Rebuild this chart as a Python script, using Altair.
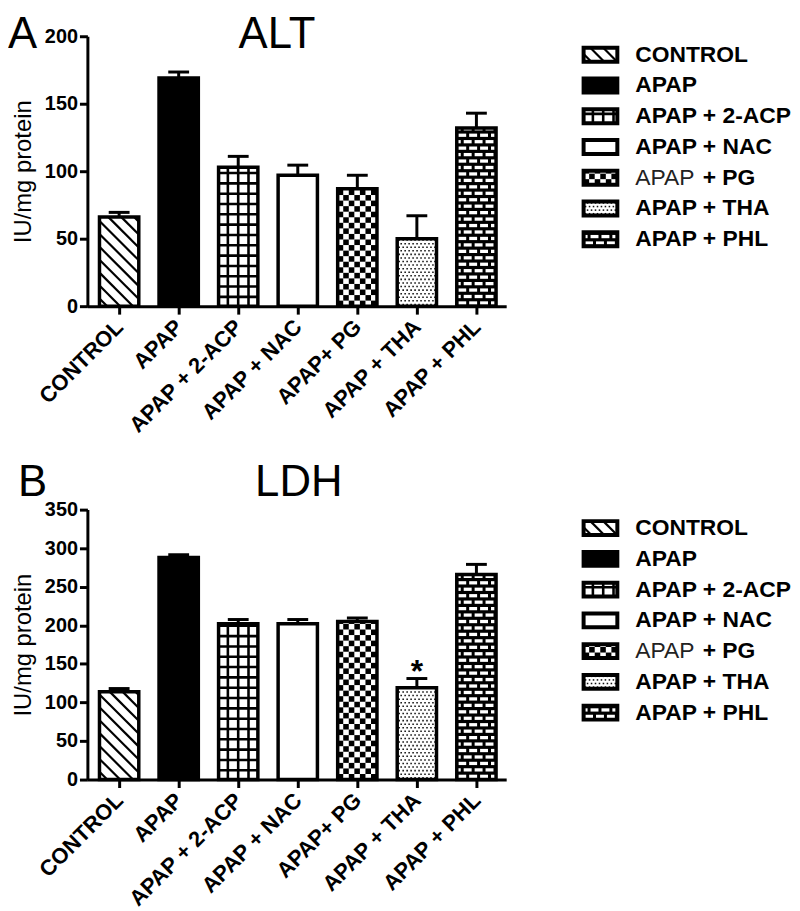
import json
import math
import altair as alt
import pandas as pd

# ---------------- data ----------------
groups = ["CONTROL", "APAP", "APAP + 2-ACP", "APAP + NAC", "APAP + PG", "APAP + THA", "APAP + PHL"]
axis_labels = ["CONTROL", "APAP", "APAP + 2-ACP", "APAP + NAC", "APAP+ PG", "APAP + THA", "APAP + PHL"]
legend_regular_prefix = ["", "", "", "", "APAP", "", ""]
patterns = ["hatch", "solid", "grid", "empty", "checker", "dots", "brick"]

alt_mean = [66, 169, 103, 97, 87, 50, 132]
alt_sem = [3.5, 4.5, 8, 7.5, 10, 17, 11]
alt_marks = ["", "", "", "", "", "", ""]

ldh_mean = [114, 288, 202, 202, 205, 119, 266]
ldh_sem = [4, 3.5, 5.5, 5.5, 4.5, 12, 13]
ldh_marks = ["", "", "", "", "", "*", ""]

# ---------------- layout / style ----------------
FONT = "Liberation Sans"
W, H = 422, 272
XMIN, XMAX = -0.533, 6.5
KX = W / (XMAX - XMIN)
HW = 0.33
CAP = 0.175
BASE_FILL = {"hatch": "white", "solid": "black", "grid": "white", "empty": "white",
             "checker": "white", "dots": "white", "brick": "black"}

LEGW, LEGH = 200, 217
KYL = LEGH / 7.0
SW_W, SW_H = 34, 14
LABEL_X = 52
LEG_FONT = 23
PREFIX_W = 68


def prims(kind, Wb, Hb):
    lines, rects, dots = [], [], []
    if kind == "hatch":
        s = 13.0
        c = s * 0.6
        while c < Wb + Hb:
            u1, u2 = max(0.0, c - Hb), min(Wb, c)
            if u2 - u1 > 0.5:
                lines.append((u1, c - u1, u2, c - u2, 2.2))
            c += s
    elif kind == "grid":
        p = 10.4
        u = p * 0.9
        while u < Wb - 1:
            lines.append((u, 0, u, Hb, 2.6))
            u += p
        w = p * 0.9
        while w < Hb - 1:
            lines.append((0, w, Wb, w, 2.6))
            w += p
    elif kind == "checker":
        c = 5.6
        for a in range(int(math.ceil(Wb / c))):
            for b in range(int(math.ceil(Hb / c))):
                if (a + b) % 2 == 0:
                    rects.append((a * c, b * c, min(Wb, (a + 1) * c), min(Hb, (b + 1) * c), "black"))
    elif kind == "dots":
        ph, pv = 4.0, 3.6
        r = 0
        w = pv / 2
        while w < Hb - 1:
            u = 2.0 + (ph / 2 if r % 2 else 0)
            while u < Wb - 1:
                dots.append((u, w))
                u += ph
            w += pv
            r += 1
    elif kind == "brick":
        ph, pv, bw, bh = 11.0, 6.5, 8.0, 3.3
        r = 0
        w = 1.6
        while w < Hb:
            u = 1.5 if r % 2 == 0 else 1.5 - ph / 2
            while u < Wb:
                u1, u2 = max(0.0, u), min(Wb, u + bw)
                w2 = min(Hb, w + bh)
                if u2 - u1 > 0.5 and w2 - w > 0.5:
                    rects.append((u1, w, u2, w2, "white"))
                u += ph
            w += pv
            r += 1
    return lines, rects, dots


def pattern_frames(regions):
    L, R, D = [], [], []
    for kind, Wb, Hb, fx, fy in regions:
        lines, rects, dots = prims(kind, Wb, Hb)
        for u1, w1, u2, w2, sw in lines:
            L.append({"x": fx(u1), "y": fy(w1), "x2": fx(u2), "y2": fy(w2), "sw": sw})
        for u1, w1, u2, w2, col in rects:
            R.append({"x": fx(u1), "y": fy(w1), "x2": fx(u2), "y2": fy(w2), "c": col})
        for u, w in dots:
            D.append({"x": fx(u), "y": fy(w)})
    return pd.DataFrame(L), pd.DataFrame(R), pd.DataFrame(D)


def pattern_layers(L, R, D, xs, ys, xa, ya):
    out = []
    if len(L):
        out.append(alt.Chart(L).mark_rule(color="black").encode(
            x=alt.X("x:Q", scale=xs, axis=xa), y=alt.Y("y:Q", scale=ys, axis=ya),
            x2="x2:Q", y2="y2:Q", strokeWidth=alt.StrokeWidth("sw:Q", scale=None)))
    if len(R):
        out.append(alt.Chart(R).mark_rect(strokeWidth=0).encode(
            x=alt.X("x:Q", scale=xs, axis=xa), y=alt.Y("y:Q", scale=ys, axis=ya),
            x2="x2:Q", y2="y2:Q", fill=alt.Fill("c:N", scale=None)))
    if len(D):
        out.append(alt.Chart(D).mark_square(size=2.4, color="#111", opacity=1).encode(
            x=alt.X("x:Q", scale=xs, axis=xa), y=alt.Y("y:Q", scale=ys, axis=ya)))
    return out


def panel(means, sems, marks, ymax, letter, title, letter_x, title_x, title_y):
    KY = H / ymax
    xs = alt.Scale(domain=[XMIN, XMAX], nice=False, zero=False)
    ys = alt.Scale(domain=[0, ymax], nice=False, zero=True)
    df = pd.DataFrame({"idx": list(range(7)), "mean": means, "sem": sems, "mark": marks,
                       "fill": [BASE_FILL[p] for p in patterns]})
    base = alt.Chart(df).transform_calculate(
        x1=f"datum.idx - {HW}", x2=f"datum.idx + {HW}", zero="0",
        top="datum.mean + datum.sem", cl=f"datum.idx - {CAP}", cr=f"datum.idx + {CAP}")
    label_expr = json.dumps(axis_labels) + "[round(datum.value)]"
    xa = alt.Axis(values=list(range(7)), labelExpr=label_expr, labelAngle=-45,
                  labelAlign="right", labelBaseline="middle", labelFontSize=22,
                  labelPadding=9, title=None, tickSize=8, labelOverlap=False,
                  labelBound=False)
    ya = alt.Axis(values=list(range(0, ymax + 1, 50)), title="IU/mg protein",
                  labelFontSize=20, titleFontSize=24, titleFontWeight="normal",
                  titlePadding=9, tickSize=8, labelPadding=2, labelOverlap=False)
    fill_layer = base.mark_rect(strokeWidth=0).encode(
        x=alt.X("x1:Q", scale=xs, axis=xa), x2="x2:Q",
        y=alt.Y("mean:Q", scale=ys, axis=ya), y2="zero:Q",
        fill=alt.Fill("fill:N", scale=None))

    regions = []
    for i, (p, m) in enumerate(zip(patterns, means)):
        regions.append((p, 2 * HW * KX, m * KY,
                        (lambda u, i=i: i - HW + u / KX),
                        (lambda w: w / KY)))
    L, R, D = pattern_frames(regions)
    pats = pattern_layers(L, R, D, xs, ys, xa, ya)

    outline = base.mark_rect(fillOpacity=0, stroke="black", strokeWidth=3.5).encode(
        x=alt.X("x1:Q", scale=xs, axis=xa), x2="x2:Q",
        y=alt.Y("mean:Q", scale=ys, axis=ya), y2="zero:Q")
    err = base.mark_rule(color="black", strokeWidth=3).encode(
        x=alt.X("idx:Q", scale=xs, axis=xa),
        y=alt.Y("mean:Q", scale=ys, axis=ya), y2="top:Q")
    cap = base.mark_rule(color="black", strokeWidth=3).encode(
        x=alt.X("cl:Q", scale=xs, axis=xa), x2="cr:Q",
        y=alt.Y("top:Q", scale=ys, axis=ya))
    star = base.transform_filter("datum.mark != ''").mark_text(
        fontSize=32, fontWeight="bold", baseline="alphabetic", dy=4, color="black").encode(
        x=alt.X("idx:Q", scale=xs, axis=xa), y=alt.Y("top:Q", scale=ys, axis=ya),
        text="mark:N")
    letter_t = alt.Chart(pd.DataFrame({"t": [letter]})).mark_text(
        fontSize=44, align="left", baseline="alphabetic", color="black").encode(
        x=alt.value(letter_x), y=alt.value(title_y), text="t:N")
    title_t = alt.Chart(pd.DataFrame({"t": [title]})).mark_text(
        fontSize=44, align="center", baseline="alphabetic", color="black").encode(
        x=alt.value(title_x), y=alt.value(title_y), text="t:N")
    return alt.layer(fill_layer, *pats, outline, err, cap, star, letter_t, title_t).properties(
        width=W, height=H)


def legend():
    xs = alt.Scale(domain=[0, LEGW], nice=False, zero=False)
    ys = alt.Scale(domain=[-0.1, 6.9], reverse=True, nice=False, zero=False)
    hh = SW_H / 2 / KYL
    regs = legend_regular_prefix
    bolds = [g[len(p):].strip() for g, p in zip(groups, regs)]
    df = pd.DataFrame({
        "idx": list(range(7)), "reg": regs, "bold": bolds,
        "bx": [LABEL_X + (PREFIX_W if p else 0) for p in regs],
        "rx": [LABEL_X] * 7,
        "fill": [BASE_FILL[p] for p in patterns]})
    base = alt.Chart(df).transform_calculate(
        yc="datum.idx + 0.5", ya=f"datum.idx + 0.5 - {hh}", yb=f"datum.idx + 0.5 + {hh}",
        sx1="0", sx2=str(SW_W))
    sw_fill = base.mark_rect(strokeWidth=0).encode(
        x=alt.X("sx1:Q", scale=xs, axis=None), x2="sx2:Q",
        y=alt.Y("ya:Q", scale=ys, axis=None), y2="yb:Q",
        fill=alt.Fill("fill:N", scale=None))
    regions = []
    for i, p in enumerate(patterns):
        regions.append((p, SW_W, SW_H,
                        (lambda u: u),
                        (lambda w, i=i: i + 0.5 + hh - w / KYL)))
    L, R, D = pattern_frames(regions)
    pats = pattern_layers(L, R, D, xs, ys, None, None)
    sw_out = base.mark_rect(fillOpacity=0, stroke="black", strokeWidth=4).encode(
        x=alt.X("sx1:Q", scale=xs, axis=None), x2="sx2:Q",
        y=alt.Y("ya:Q", scale=ys, axis=None), y2="yb:Q")
    t_bold = base.mark_text(align="left", baseline="middle", fontSize=LEG_FONT,
                            fontWeight="bold", color="black").encode(
        x=alt.X("bx:Q", scale=xs, axis=None), y=alt.Y("yc:Q", scale=ys, axis=None),
        text="bold:N")
    t_reg = base.transform_filter("datum.reg != ''").mark_text(
        align="left", baseline="middle", fontSize=LEG_FONT, fontWeight="normal",
        color="#222").encode(
        x=alt.X("rx:Q", scale=xs, axis=None), y=alt.Y("yc:Q", scale=ys, axis=None),
        text="reg:N")
    return alt.layer(sw_fill, *pats, sw_out, t_bold, t_reg).properties(width=LEGW, height=LEGH)


pA = panel(alt_mean, alt_sem, alt_marks, 200, "A", "ALT", -80, 191, 12)
pB = panel(ldh_mean, ldh_sem, ldh_marks, 350, "B", "LDH", -70, 213, -14)

chart = alt.concat(
    pA, legend(), pB, legend(), columns=2,
    spacing={"row": 205, "column": 78}, bounds="flush"
).properties(padding={"left": 0, "top": 2, "right": 0, "bottom": 0}).configure(
    font=FONT).configure_view(stroke=None).configure_axis(
    domainColor="black", domainWidth=3, tickColor="black", tickWidth=3,
    labelColor="black", labelFontWeight="bold", titleColor="black", grid=False,
    labelFont=FONT, titleFont=FONT)

chart.save("out.html", embed_options={"renderer": "svg", "actions": False})
